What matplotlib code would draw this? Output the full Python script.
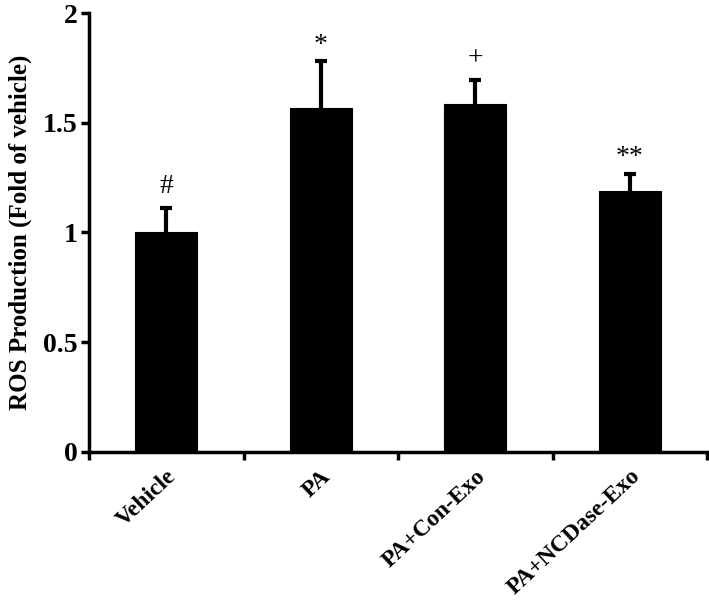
import matplotlib
matplotlib.use("Agg")
import matplotlib.pyplot as plt
import numpy as np

categories = ["Vehicle", "PA", "PA+Con-Exo", "PA+NCDase-Exo"]
values = [1.0, 1.565, 1.587, 1.19]
errors = [0.11, 0.215, 0.11, 0.075]
marks = ["#", "*", "+", "**"]
mark_y = [1.21, 1.85, 1.79, 1.34]
yticks = [0, 0.5, 1, 1.5, 2]
ytick_labels = ["0", "0.5", "1", "1.5", "2"]

plt.rcParams['font.family'] = ['Liberation Serif', 'DejaVu Serif']

fig = plt.figure(figsize=(7.09, 6.08), dpi=100)
ax = fig.add_axes([0.1255, 0.2566, 0.872, 0.722])

x = np.arange(len(categories))
ax.bar(x, values, width=0.4, color='black', edgecolor='black', linewidth=0.8, zorder=2)
eb = ax.errorbar(x, values, yerr=[np.zeros(len(values)), errors], fmt='none',
                 ecolor='black', elinewidth=3, capsize=4, capthick=3, zorder=1)
caps = eb[1]
if len(caps) == 2:
    caps[0].set_visible(False)

for xi, m, my in zip(x, marks, mark_y):
    ax.text(xi, my, m, ha='center', va='center', fontsize=20, color='black')

ax.set_xlim(-0.5, len(categories) - 0.5)
ax.set_ylim(0, 2)

ax.set_yticks(yticks)
ax.set_yticklabels(ytick_labels, fontsize=20, fontweight='bold')

ax.set_xticks(np.arange(-0.5, len(categories), 1.0))
ax.set_xticklabels([])
ax.set_xticks(x, minor=True)
ax.set_xticklabels(categories, minor=True, rotation=43, ha='right',
                   rotation_mode='anchor', fontsize=17, fontweight='bold')
ax.tick_params(axis='x', which='minor', length=0, pad=10)
ax.tick_params(axis='x', which='major', length=6, width=2.5, direction='out')
ax.tick_params(axis='y', length=6, width=2.5, direction='out', pad=2)

for s in ['top', 'right']:
    ax.spines[s].set_visible(False)
for s in ['left', 'bottom']:
    ax.spines[s].set_linewidth(2.5)

ax.set_ylabel("ROS Production (Fold of vehicle)", fontsize=18, fontweight='bold', labelpad=8)

fig.savefig("out.png", dpi=100)
